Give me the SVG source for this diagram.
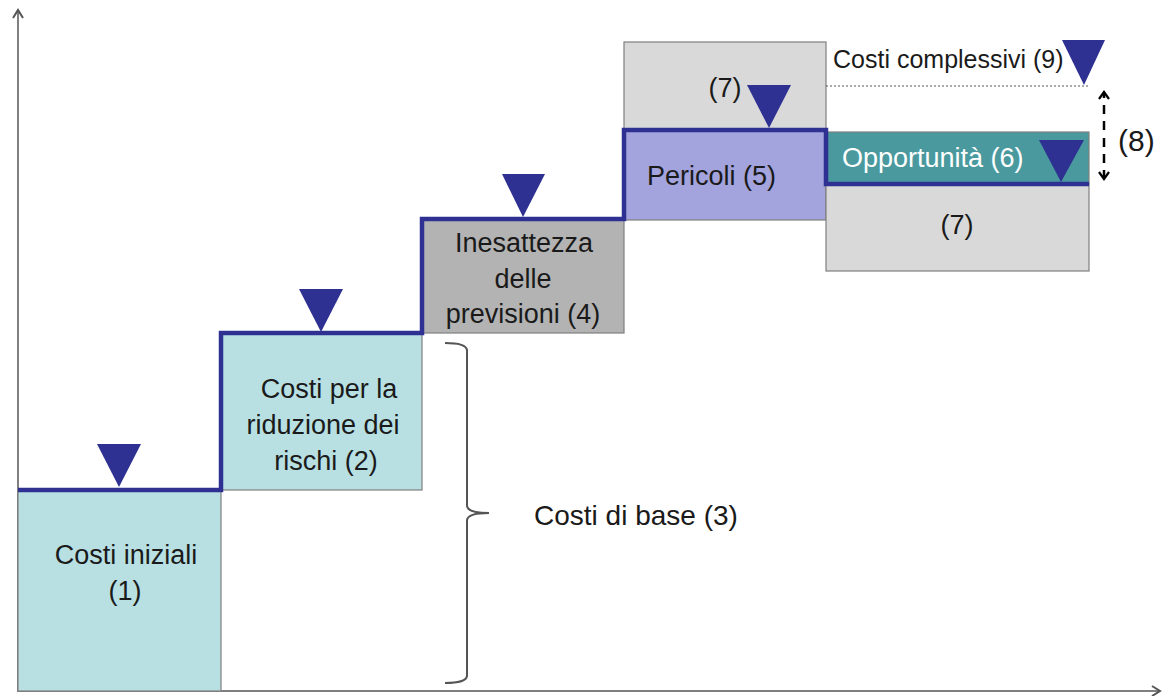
<svg xmlns="http://www.w3.org/2000/svg" width="1164" height="696" viewBox="0 0 1164 696">
<style>
text{font-family:"Liberation Sans",Arial,sans-serif;font-size:27px;fill:#1a1a1a}
.c{text-anchor:middle}
.box{stroke:#7f7f7f;stroke-width:1.2}
.tri{fill:#2e3192}
.ax{stroke:#7f7f7f;stroke-width:2;fill:none}
</style>
<defs>
<marker id="open" markerWidth="12" markerHeight="12" refX="10" refY="6" orient="auto" markerUnits="userSpaceOnUse">
<path d="M2,1 L10,6 L2,11" fill="none" stroke="#555" stroke-width="2"/>
</marker>
<marker id="blk" markerWidth="12" markerHeight="12" refX="10" refY="6" orient="auto" markerUnits="userSpaceOnUse">
<path d="M3,1 L10,6 L3,11" fill="none" stroke="#000" stroke-width="2.2"/>
</marker>
</defs>
<rect width="1164" height="696" fill="#fff"/>
<g id="axes">
<line class="ax" x1="18" y1="692" x2="18" y2="10" marker-end="url(#open)"/>
<line class="ax" x1="18" y1="691" x2="1160" y2="691" marker-end="url(#open)"/>
</g>
<g id="n1"><rect class="box" x="18" y="490" width="203" height="201" fill="#b8e0e3"/>
<text class="c" x="126" y="564">Costi iniziali</text><text class="c" x="125" y="600">(1)</text></g>
<g id="n2"><rect class="box" x="221" y="333" width="201" height="157" fill="#b8e0e3"/>
<text class="c" x="329" y="398">Costi per la</text><text class="c" x="323" y="434">riduzione dei</text><text class="c" x="326" y="470">rischi (2)</text></g>
<g id="n4"><rect class="box" x="422" y="219" width="202" height="114" fill="#b3b3b3"/>
<text class="c" x="524" y="252">Inesattezza</text><text class="c" x="523" y="288">delle</text><text class="c" x="523" y="323">previsioni (4)</text></g>
<g id="n7top"><rect class="box" x="624" y="42" width="202" height="88" fill="#d9d9d9"/>
<text class="c" x="725" y="97">(7)</text></g>
<g id="n5"><rect class="box" x="624" y="130" width="202" height="90" fill="#a3a3dd"/>
<text x="647" y="185">Pericoli (5)</text></g>
<g id="n7bot"><rect class="box" x="826" y="184" width="263" height="87" fill="#d9d9d9"/>
<text class="c" x="957" y="234">(7)</text></g>
<g id="n6"><rect class="box" x="826" y="132" width="263" height="52" fill="#4a999e"/>
<text x="842" y="167" style="fill:#fff">Opportunità (6)</text></g>
<g id="connectors">
<path d="M18,490 H221 V333 H422 V219 H624 V130 H826 V184 H1089" fill="none" stroke="#2e3192" stroke-width="4.5"/>
<line x1="826" y1="86" x2="1090" y2="86" stroke="#555" stroke-width="1" stroke-dasharray="2,2"/>
<line x1="1104" y1="130" x2="1104" y2="92" stroke="#000" stroke-width="2.5" stroke-dasharray="9,7" marker-end="url(#blk)"/>
<line x1="1104" y1="138" x2="1104" y2="179" stroke="#000" stroke-width="2.5" stroke-dasharray="9,7" marker-end="url(#blk)"/>
<path d="M445,343 Q466,343 467,350 V506 Q468,513 489,513 Q468,513 467,520 V676 Q466,683 445,683" fill="none" stroke="#555" stroke-width="2"/>
</g>
<g id="markers">
<polygon class="tri" points="97,444 141,444 119,487"/>
<polygon class="tri" points="299,289 343,289 321,332"/>
<polygon class="tri" points="502,174 545,174 523,217"/>
<polygon class="tri" points="747,85 791,85 769,128"/>
<polygon class="tri" points="1039,140 1084,140 1061,182"/>
<polygon class="tri" points="1062,40 1105,40 1084,85"/>
</g>
<g id="labels">
<text x="833" y="68" style="font-size:25px">Costi complessivi (9)</text>
<text x="1118" y="151" style="font-size:30px">(8)</text>
<text x="534" y="525" style="font-size:28px">Costi di base (3)</text>
</g>
</svg>
